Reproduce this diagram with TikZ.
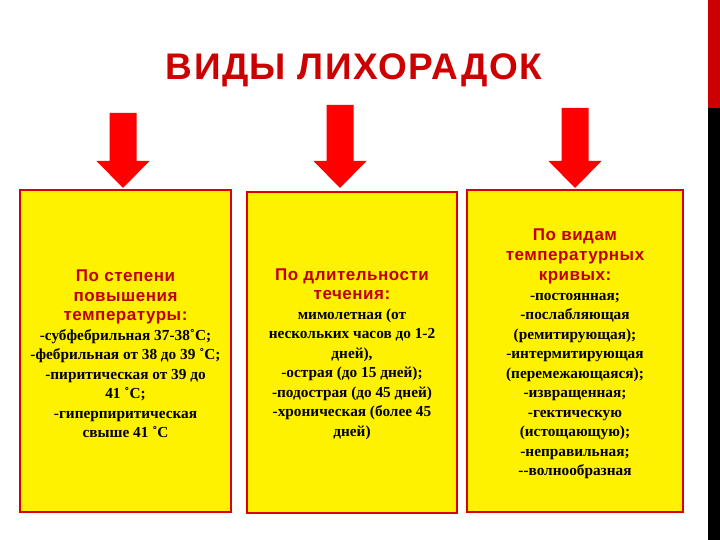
\documentclass[tikz,border=0pt]{standalone}
\usepackage{fontspec}
\setmainfont{Liberation Serif}
\newfontfamily\hsans{Liberation Sans}
\newcommand\hdr[1]{{\hsans\color{red!75!black}\fontsize{17}{21}\selectfont\addfontfeature{LetterSpace=3}\rule{0pt}{16pt}#1}}
\begin{document}
\begin{tikzpicture}[x=1pt,y=-1pt,
  box/.style={draw=red!85!black,line width=1.5pt,fill=yellow},
  arr/.style={fill=red,draw=none},
  txt/.style={align=center,font=\bfseries\fontsize{15.3}{19.5}\selectfont}]
\useasboundingbox (0,0) rectangle (720,540);
\fill[red!80!black] (708,0) rectangle (720,108);
\fill[black] (708,108) rectangle (720,540);
\node[font=\hsans\bfseries\fontsize{37}{40}\selectfont,text=red!80!black] (title) at (354,70) {\addfontfeature{LetterSpace=4}ВИДЫ ЛИХОРАДОК};
\foreach \n/\c/\t in {a1/123/113,a2/340/105,a3/575/108}{
  \fill[arr] (\c-13.5,\t) -- (\c+13.5,\t) -- (\c+13.5,161) -- (\c+26.5,161) -- (\c,188) -- (\c-26.5,161) -- (\c-13.5,161) -- cycle;
  \coordinate (\n) at (\c,188);
}
\draw[box] (20,190) rectangle (231,512);
\draw[box] (247,192) rectangle (457,513);
\draw[box] (467,190) rectangle (683,512);
\node[txt] (b1) at (125.5,352) {\hdr{По степени}\\ \hdr{повышения}\\ \hdr{температуры:}\\
-субфебрильная 37-38˚С;\\ -фебрильная от 38 до 39 ˚С;\\ -пиритическая от 39 до\\ 41 ˚С;\\ -гиперпиритическая\\ свыше 41 ˚С};
\node[txt] (b2) at (352,352) {\hdr{По длительности}\\ \hdr{течения:}\\
мимолетная (от\\ нескольких часов до 1-2\\ дней),\\ -острая (до 15 дней);\\ -подострая (до 45 дней)\\ -хроническая (более 45\\ дней)};
\node[txt] (b3) at (575,352) {\hdr{По видам}\\ \hdr{температурных}\\ \hdr{кривых:}\\
-постоянная;\\ -послабляющая\\ (ремитирующая);\\ -интермитирующая\\ (перемежающаяся);\\ -извращенная;\\ -гектическую\\ (истощающую);\\ -неправильная;\\ -{}-волнообразная};
\end{tikzpicture}
\end{document}
